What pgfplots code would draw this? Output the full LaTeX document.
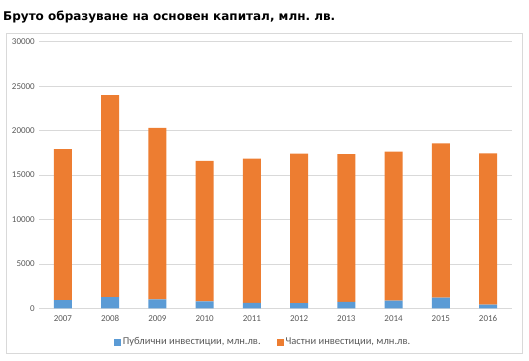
\documentclass[border=0pt]{standalone}
\usepackage{fontspec}
\setmainfont{Carlito}
\newfontfamily\titlefont{DejaVu Sans}
\usepackage{pgfplots}
\pgfplotsset{compat=1.18}
\usepackage{pgfplotstable}
\frenchspacing
\definecolor{pubblue}{HTML}{5B9BD5}
\definecolor{privorange}{HTML}{ED7D31}
\definecolor{gridgray}{HTML}{D9D9D9}
\definecolor{textgray}{HTML}{595959}
\definecolor{boxgray}{HTML}{D9D9D9}
\pgfplotstableread{
x year public private
0 2007 930 16970
1 2008 1270 22730
2 2009 1010 19290
3 2010 790 15810
4 2011 600 16250
5 2012 570 16830
6 2013 720 16640
7 2014 870 16750
8 2015 1200 17360
9 2016 420 17010
}\datatable
\begin{document}
\begin{tikzpicture}[x=1pt,y=1pt]
\path[use as bounding box] (0,0) rectangle (529,360);
\draw[boxgray, line width=0.8pt] (6,7) rectangle (522,327);
\node[anchor=base west, inner sep=0pt, font=\titlefont\bfseries\fontsize{12}{14}\selectfont] at (3,340) {Бруто образуване на основен капитал, млн.\ лв.};
\begin{axis}[
  at={(39.3pt,51.7pt)}, anchor=south west,
  scale only axis, width=472.4pt, height=266.6pt,
  xmin=-0.5, xmax=9.5, ymin=0, ymax=30000,
  ybar stacked, bar width=18pt,
  axis x line*=bottom,
  axis y line*=left,
  x axis line style={draw=gridgray, line width=0.8pt, -},
  y axis line style={draw=none},
  ymajorgrids, grid style={gridgray, line width=0.6pt},
  ytick={0,5000,10000,15000,20000,25000,30000},
  xtick=data,
  xticklabels={2007,2008,2009,2010,2011,2012,2013,2014,2015,2016},
  major tick length=0pt,
  scaled y ticks=false,
  /pgf/number format/assume math mode=true,
  yticklabel style={/pgf/number format/fixed, /pgf/number format/1000 sep={}, font=\fontsize{9}{10}\selectfont, text=textgray, xshift=-1pt},
  xticklabel style={font=\fontsize{9}{10}\selectfont, text=textgray, yshift=-4pt},
  legend style={at={(0.4735,-0.1264)}, anchor=center, draw=none, fill=none, legend columns=2,
    font=\fontsize{10.5}{12}\selectfont, text=textgray,
    /tikz/every even column/.append style={column sep=14pt}},
  legend image code/.code={\fill[#1] (0pt,-3.5pt) rectangle (7pt,3.5pt);},
]
\addplot+[ybar, fill=pubblue, draw=none, mark=none] table[x=x, y=public] {\datatable};
\addlegendentry{Публични инвестиции, млн.лв.}
\addplot+[ybar, fill=privorange, draw=none, mark=none] table[x=x, y=private] {\datatable};
\addlegendentry{Частни инвестиции, млн.лв.}
\end{axis}
\end{tikzpicture}
\end{document}
